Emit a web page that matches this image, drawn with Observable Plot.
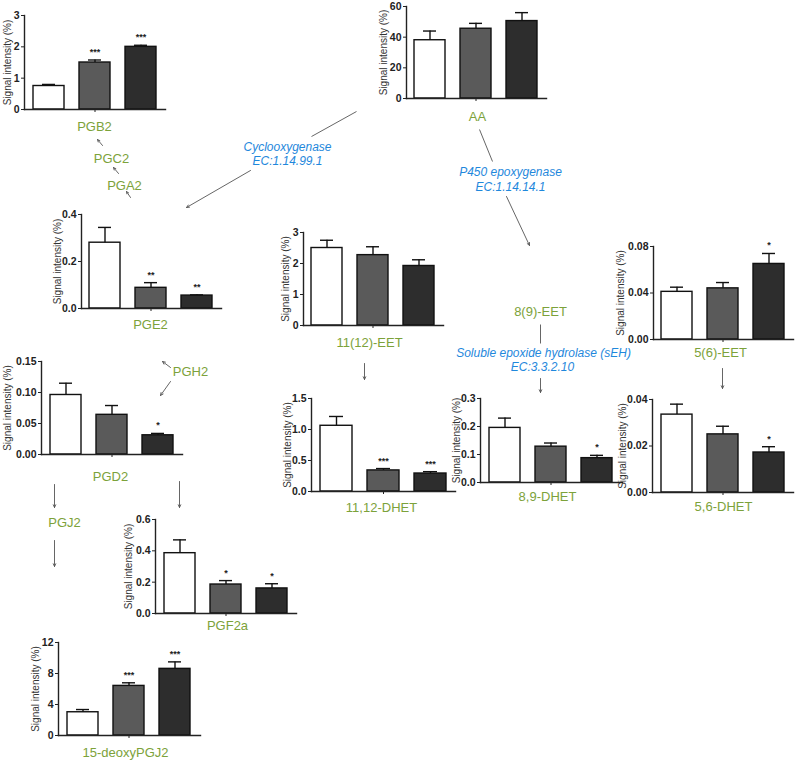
<!DOCTYPE html>
<html><head><meta charset="utf-8">
<script src="https://cdn.jsdelivr.net/npm/d3@7"></script>
<script src="https://cdn.jsdelivr.net/npm/@observablehq/plot@0.6"></script>
<style>
body{margin:0;background:#fff;}
#fig{position:relative;width:796px;height:760px;overflow:hidden;background:#fff;font-family:"Liberation Sans",Arial,sans-serif;}
#fig svg{position:absolute;}
</style></head><body><div id="fig"></div>
<script>
// ---- data ----
const groups = ["Group 1", "Group 2", "Group 3"];

const pgb2Mean = [0.75, 1.50, 2.00];   const pgb2Err = [0.05, 0.08, 0.05];   const pgb2Sig = ["", "***", "***"];   const pgb2Ticks = [0, 1, 2, 3];
const aaMean = [38, 45.5, 50.5];       const aaErr = [6, 3.5, 5.5];          const aaSig = ["", "", ""];            const aaTicks = [0, 20, 40, 60];
const pge2Mean = [0.28, 0.088, 0.055]; const pge2Err = [0.065, 0.022, 0.003]; const pge2Sig = ["", "**", "**"];    const pge2Ticks = [0, 0.2, 0.4];
const eet1112Mean = [2.50, 2.27, 1.92]; const eet1112Err = [0.25, 0.27, 0.20]; const eet1112Sig = ["", "", ""];     const eet1112Ticks = [0, 1, 2, 3];
const eet56Mean = [0.041, 0.044, 0.065]; const eet56Err = [0.004, 0.005, 0.009]; const eet56Sig = ["", "", "*"];   const eet56Ticks = [0, 0.04, 0.08];
const pgd2Mean = [0.096, 0.064, 0.031]; const pgd2Err = [0.019, 0.015, 0.003]; const pgd2Sig = ["", "", "*"];       const pgd2Ticks = [0, 0.05, 0.10, 0.15];
const dhet1112Mean = [1.06, 0.34, 0.29]; const dhet1112Err = [0.15, 0.03, 0.03]; const dhet1112Sig = ["", "***", "***"]; const dhet1112Ticks = [0, 0.5, 1.0, 1.5];
const dhet89Mean = [0.195, 0.128, 0.087]; const dhet89Err = [0.035, 0.013, 0.010]; const dhet89Sig = ["", "", "*"]; const dhet89Ticks = [0, 0.1, 0.2, 0.3];
const dhet56Mean = [0.0335, 0.025, 0.0172]; const dhet56Err = [0.0045, 0.0035, 0.0025]; const dhet56Sig = ["", "", "*"]; const dhet56Ticks = [0, 0.02, 0.04];
const pgf2aMean = [0.385, 0.185, 0.16]; const pgf2aErr = [0.085, 0.025, 0.03]; const pgf2aSig = ["", "*", "*"];     const pgf2aTicks = [0, 0.2, 0.4, 0.6];
const dpgj2Mean = [3.0, 6.4, 8.6];     const dpgj2Err = [0.35, 0.4, 0.9];    const dpgj2Sig = ["", "***", "***"];   const dpgj2Ticks = [0, 4, 8, 12];

const yTitle = "Signal intensity (%)";
const barFills = ["#ffffff", "#5a5a5a", "#2d2d2d"];
const green = "#7ca23a";
const blue = "#1f88dc";

// ---- layout (pixel boxes of each small chart) ----
const panels = [
  {mean: pgb2Mean, err: pgb2Err, sig: pgb2Sig, ticks: pgb2Ticks, fmt: d3.format(".0f"), axL: 24, axR: 165, yTop: 15, yBot: 109, titleOff: 17},
  {mean: aaMean, err: aaErr, sig: aaSig, ticks: aaTicks, fmt: d3.format(".0f"), axL: 406, axR: 546, yTop: 6, yBot: 98, titleOff: 23},
  {mean: pge2Mean, err: pge2Err, sig: pge2Sig, ticks: pge2Ticks, fmt: d3.format(".1f"), axL: 81, axR: 221, yTop: 214, yBot: 308, titleOff: 24},
  {mean: eet1112Mean, err: eet1112Err, sig: eet1112Sig, ticks: eet1112Ticks, fmt: d3.format(".0f"), axL: 303, axR: 443, yTop: 232, yBot: 325, titleOff: 18},
  {mean: eet56Mean, err: eet56Err, sig: eet56Sig, ticks: eet56Ticks, fmt: d3.format(".2f"), axL: 653, axR: 793, yTop: 246, yBot: 339, titleOff: 33},
  {mean: pgd2Mean, err: pgd2Err, sig: pgd2Sig, ticks: pgd2Ticks, fmt: d3.format(".2f"), axL: 41, axR: 182, yTop: 361, yBot: 454, titleOff: 34},
  {mean: dhet1112Mean, err: dhet1112Err, sig: dhet1112Sig, ticks: dhet1112Ticks, fmt: d3.format(".1f"), axL: 311, axR: 455, yTop: 398, yBot: 491, titleOff: 24},
  {mean: dhet89Mean, err: dhet89Err, sig: dhet89Sig, ticks: dhet89Ticks, fmt: d3.format(".1f"), axL: 480, axR: 622, yTop: 398, yBot: 482, titleOff: 24},
  {mean: dhet56Mean, err: dhet56Err, sig: dhet56Sig, ticks: dhet56Ticks, fmt: d3.format(".2f"), axL: 652, axR: 793, yTop: 399, yBot: 492, titleOff: 30},
  {mean: pgf2aMean, err: pgf2aErr, sig: pgf2aSig, ticks: pgf2aTicks, fmt: d3.format(".1f"), axL: 155, axR: 296, yTop: 519, yBot: 613, titleOff: 27},
  {mean: dpgj2Mean, err: dpgj2Err, sig: dpgj2Sig, ticks: dpgj2Ticks, fmt: d3.format(".0f"), axL: 58, axR: 200, yTop: 642, yBot: 735, titleOff: 23}
];

const greenLabels = [
  {t: "PGB2", x: 94, y: 126}, {t: "PGC2", x: 111, y: 158}, {t: "PGA2", x: 124, y: 185},
  {t: "AA", x: 477, y: 116}, {t: "PGE2", x: 150, y: 324}, {t: "11(12)-EET", x: 369, y: 342},
  {t: "8(9)-EET", x: 540, y: 311}, {t: "5(6)-EET", x: 720, y: 352}, {t: "PGH2", x: 190, y: 371},
  {t: "PGD2", x: 110, y: 476}, {t: "11,12-DHET", x: 381, y: 507}, {t: "8,9-DHET", x: 547, y: 496},
  {t: "5,6-DHET", x: 723, y: 506}, {t: "PGJ2", x: 64, y: 522}, {t: "PGF2a", x: 227, y: 625},
  {t: "15-deoxyPGJ2", x: 125, y: 752}
];
const blueLabels = [
  {t: "Cyclooxygenase", x: 287, y: 147}, {t: "EC:1.14.99.1", x: 287, y: 161},
  {t: "P450 epoxygenase", x: 510, y: 172}, {t: "EC:1.14.14.1", x: 510, y: 187},
  {t: "Soluble epoxide hydrolase (sEH)", x: 543, y: 353}, {t: "EC:3.3.2.10", x: 542, y: 367}
];
const plainLines = [
  {x1: 356, y1: 111, x2: 311, y2: 136},
  {x1: 479, y1: 129, x2: 492, y2: 161},
  {x1: 540, y1: 324, x2: 540, y2: 343}
];
const arrows = [
  {x1: 250, y1: 170, x2: 186, y2: 207},
  {x1: 506, y1: 196, x2: 529, y2: 245},
  {x1: 102, y1: 145, x2: 97, y2: 139},
  {x1: 118, y1: 173, x2: 113, y2: 167},
  {x1: 130, y1: 197, x2: 126, y2: 191},
  {x1: 364, y1: 363, x2: 364, y2: 379},
  {x1: 540, y1: 378, x2: 540, y2: 392},
  {x1: 722, y1: 368, x2: 722, y2: 388},
  {x1: 170, y1: 367, x2: 162, y2: 361},
  {x1: 170, y1: 381, x2: 160, y2: 395},
  {x1: 54, y1: 484, x2: 54, y2: 507},
  {x1: 54, y1: 540, x2: 54, y2: 566},
  {x1: 179, y1: 481, x2: 179, y2: 507}
];

// ---- drawing ----
const fig = document.getElementById("fig");
const font = "'Liberation Sans', Arial, sans-serif";

for (const p of panels) {
  const mL = 50, mR = 4, mT = 16, mB = 8;
  const w = p.axR - p.axL, h = p.yBot - p.yTop;
  const data = groups.map((g, i) => ({g, v: p.mean[i], e: p.err[i], s: p.sig[i]}));
  const max = p.ticks[p.ticks.length - 1];
  const svg = Plot.plot({
    width: w + mL + mR, height: h + mT + mB,
    marginLeft: mL, marginRight: mR, marginTop: mT, marginBottom: mB,
    style: {fontFamily: font, background: "transparent", overflow: "visible", color: "#222"},
    x: {domain: groups, paddingInner: 0.32, paddingOuter: 0.175, axis: null},
    y: {domain: [0, max], axis: null},
    color: {domain: groups, range: barFills},
    marks: [
      Plot.barY(data, {x: "g", y: "v", fill: "g", stroke: "#111", strokeWidth: 1.4}),
      Plot.ruleX(data, {x: "g", y1: "v", y2: d => d.v + d.e, stroke: "#111", strokeWidth: 1.4}),
      Plot.tickY(data, {x: "g", y: d => d.v + d.e, stroke: "#111", strokeWidth: 1.4, insetLeft: 9, insetRight: 9}),
      Plot.text(data, {x: "g", y: d => d.v + d.e, text: "s", dy: -5, lineAnchor: "bottom", fontSize: 9, fontWeight: "bold", fill: "#222"}),
      Plot.axisY({ticks: p.ticks, tickFormat: p.fmt, tickSize: 3, tickPadding: 2, fontSize: 10.5, fontWeight: "bold", label: null, stroke: "#222", fill: "#222"}),
      Plot.axisX({ticks: [groups[1]], tickFormat: () => "", tickSize: 3, label: null, stroke: "#222"}),
      Plot.frame({anchor: "left", stroke: "#222", strokeWidth: 1.4}),
      Plot.frame({anchor: "bottom", stroke: "#222", strokeWidth: 1.4}),
      Plot.text([yTitle], {text: d => d, frameAnchor: "left", textAnchor: "middle", lineAnchor: "middle", rotate: -90, dx: -p.titleOff, fontSize: 10, fill: "#333"})
    ]
  });
  svg.style.left = (p.axL - mL) + "px";
  svg.style.top = (p.yTop - mT) + "px";
  fig.appendChild(svg);
}

const overlay = Plot.plot({
  width: 796, height: 760, margin: 0,
  style: {fontFamily: font, background: "transparent", pointerEvents: "none"},
  x: {domain: [0, 796], range: [0, 796], axis: null},
  y: {domain: [0, 760], range: [0, 760], axis: null},
  marks: [
    Plot.link(plainLines, {x1: "x1", y1: "y1", x2: "x2", y2: "y2", stroke: "#555", strokeWidth: 0.9}),
    Plot.arrow(arrows, {x1: "x1", y1: "y1", x2: "x2", y2: "y2", stroke: "#555", strokeWidth: 0.9, headLength: 5, headAngle: 50}),
    Plot.text(greenLabels, {x: "x", y: "y", text: "t", fill: green, fontSize: 13}),
    Plot.text(blueLabels, {x: "x", y: "y", text: "t", fill: blue, fontSize: 12, fontStyle: "italic"})
  ]
});
overlay.style.left = "0px";
overlay.style.top = "0px";
fig.appendChild(overlay);
</script>
</body></html>
